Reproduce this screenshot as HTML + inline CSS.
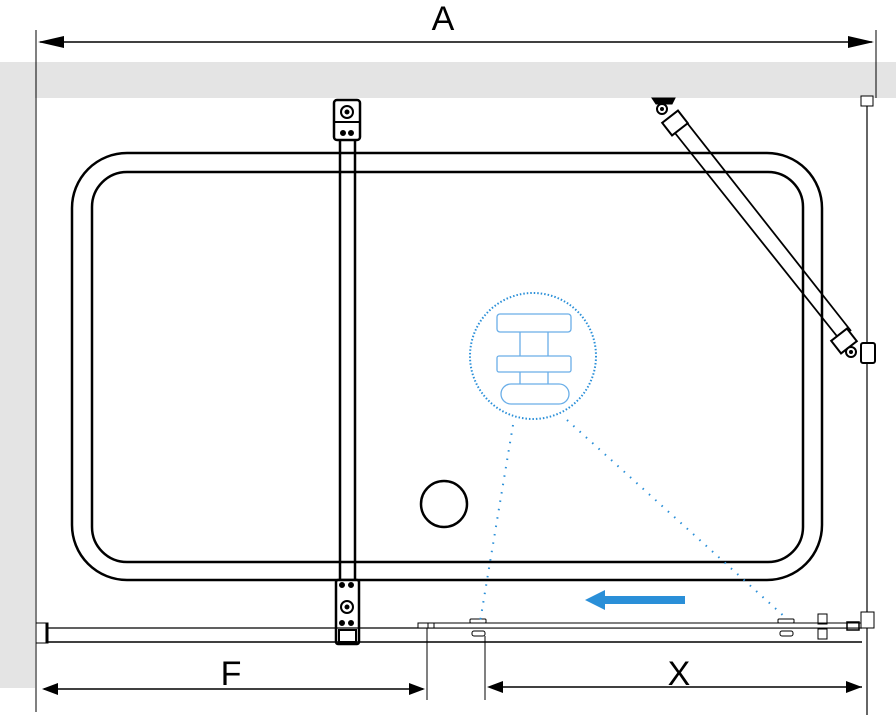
<!DOCTYPE html>
<html><head><style>body{margin:0;background:#fff}svg{display:block}</style></head><body>
<svg width="896" height="715" viewBox="0 0 896 715" xmlns="http://www.w3.org/2000/svg" font-family="Liberation Sans, sans-serif">
<rect x="0" y="62" width="896" height="36" fill="#e4e4e4"/>
<rect x="0" y="62" width="35" height="626" fill="#e4e4e4"/>
<g stroke="#000" fill="none">
<line x1="36" y1="30" x2="36" y2="712" stroke-width="1"/>
<line x1="876" y1="30" x2="876" y2="98" stroke-width="1"/>
<line x1="40" y1="42" x2="872" y2="42" stroke-width="1.5"/>
<line x1="867" y1="104" x2="867" y2="715" stroke-width="1.2"/>
<rect x="861" y="96" width="12" height="10" fill="#fff"/>
<rect x="72" y="153" width="750" height="427" rx="55" stroke-width="2.5"/>
<rect x="92" y="172" width="711" height="390" rx="35" stroke-width="2.5"/>
<circle cx="444" cy="504" r="23" stroke-width="2.5"/>
<line x1="340" y1="138" x2="340" y2="582" stroke-width="2.5"/>
<line x1="355" y1="138" x2="355" y2="582" stroke-width="2.5"/>
<rect x="334" y="100" width="26" height="40" rx="3" stroke-width="2.5" fill="#fff"/>
<line x1="334" y1="122" x2="360" y2="122" stroke-width="2"/>
<circle cx="347" cy="112" r="6" stroke-width="2"/><circle cx="347" cy="112" r="2" fill="#000"/>
<circle cx="343" cy="133" r="2.5" fill="#000"/><circle cx="351" cy="133" r="2.5" fill="#000"/>
<rect x="336" y="580" width="23" height="64" rx="2" stroke-width="2.5" fill="#fff"/>
<circle cx="342" cy="585" r="2.5" fill="#000"/><circle cx="351" cy="585" r="2.5" fill="#000"/>
<circle cx="347" cy="607" r="6" stroke-width="2"/><circle cx="347" cy="607" r="2" fill="#000"/>
<circle cx="342" cy="623" r="2.5" fill="#000"/><circle cx="351" cy="623" r="2.5" fill="#000"/>
<rect x="339" y="630" width="17" height="12" stroke-width="2"/>
<line x1="671" y1="128" x2="840" y2="340" stroke-width="1.8"/>
<line x1="684" y1="119" x2="851" y2="331" stroke-width="1.8"/>
<path d="M652 98 L675 98 L672 104 L656 104 Z" fill="#000"/>
<circle cx="662" cy="109" r="5" stroke-width="2" fill="#fff"/><circle cx="662" cy="109" r="1.5" fill="#000"/>
<rect x="665" y="115" width="20" height="16" transform="rotate(-38 675 123)" stroke-width="2" fill="#fff"/>
<rect x="834" y="333" width="20" height="16" transform="rotate(-38 844 341)" stroke-width="2" fill="#fff"/>
<circle cx="851" cy="352" r="5" stroke-width="2" fill="#fff"/><circle cx="851" cy="352" r="1.5" fill="#000"/>
<rect x="861" y="343" width="14" height="20" rx="2" stroke-width="2" fill="#fff"/>
<line x1="46" y1="628" x2="862" y2="628" stroke-width="1.2"/>
<line x1="46" y1="642" x2="862" y2="642" stroke-width="1.5"/>
<rect x="36" y="623" width="12" height="20" fill="#fff" stroke-width="1"/>
<line x1="47" y1="623" x2="47" y2="643" stroke-width="3"/>
<rect x="418" y="623" width="444" height="5" stroke-width="1" fill="#fff"/>
<rect x="428" y="623" width="6" height="5" stroke-width="1"/>
<rect x="470" y="619" width="16" height="4" rx="1" stroke-width="1"/>
<rect x="472" y="631" width="13" height="5" rx="2" stroke-width="1"/>
<rect x="778" y="619" width="16" height="4" rx="1" stroke-width="1"/>
<rect x="780" y="631" width="13" height="5" rx="2" stroke-width="1"/>
<rect x="818" y="614" width="9" height="10" stroke-width="1"/>
<rect x="818" y="629" width="9" height="10" stroke-width="1"/>
<rect x="847" y="622" width="12" height="8" stroke-width="1.5"/>
<rect x="861" y="612" width="13" height="16" stroke-width="1" fill="#fff"/>
<line x1="427" y1="628" x2="427" y2="700" stroke-width="1"/>
<line x1="485" y1="636" x2="485" y2="700" stroke-width="1"/>
<line x1="44" y1="689" x2="423" y2="689" stroke-width="1.5"/>
<line x1="490" y1="687" x2="862" y2="687" stroke-width="1.5"/>
</g>
<g fill="#000">
<path d="M38 42 L64 36 L64 48 Z"/><path d="M874 42 L848 36 L848 48 Z"/>
<path d="M42 689 L58 683 L58 695 Z"/><path d="M425 689 L409 683 L409 695 Z"/>
<path d="M487 687 L503 681 L503 693 Z"/><path d="M862 687 L846 681 L846 693 Z"/>
</g>
<text x="443" y="30" font-size="34" text-anchor="middle">A</text>
<text x="231" y="685" font-size="34" text-anchor="middle">F</text>
<text x="679" y="685" font-size="34" text-anchor="middle">X</text>
<g stroke="#2a8fd8" fill="none">
<circle cx="533" cy="356" r="63" stroke-width="2" stroke-dasharray="1.5 2"/>
<line x1="513" y1="425" x2="480" y2="622" stroke-width="2" stroke-dasharray="1.5 7"/>
<line x1="567" y1="420" x2="786" y2="618" stroke-width="2" stroke-dasharray="1.5 7"/>
<g stroke="#6aaee8" stroke-width="1.3">
<rect x="497" y="314" width="74" height="18" rx="3"/>
<rect x="497" y="356" width="74" height="16" rx="2"/>
<line x1="520" y1="332" x2="520" y2="356"/><line x1="548" y1="332" x2="548" y2="356"/>
<line x1="520" y1="372" x2="520" y2="384"/><line x1="548" y1="372" x2="548" y2="384"/>
<rect x="501" y="384" width="68" height="20" rx="10"/>
</g>
</g>
<path d="M585 600 L605 590 L605 596 L685 596 L685 604 L605 604 L605 610 Z" fill="#2a8fd8"/>
</svg>
</body></html>
